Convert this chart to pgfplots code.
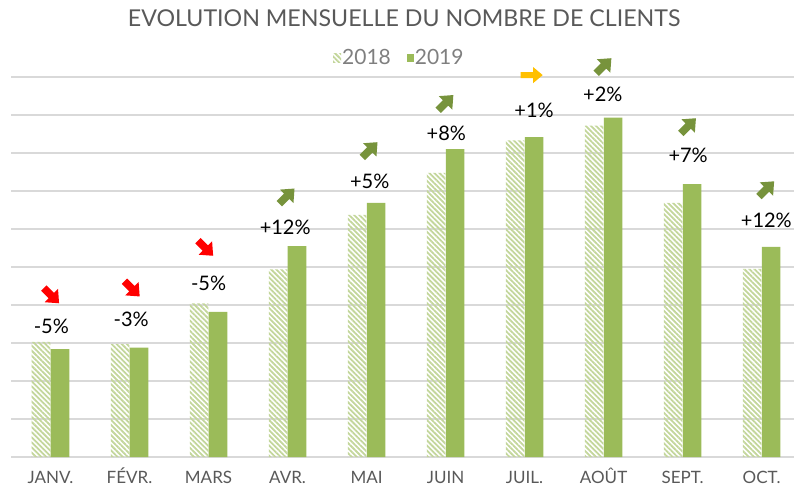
\documentclass[border=0pt]{standalone}
\usepackage{pgfplots}
\pgfplotsset{compat=1.18}
\usepackage{pgfplotstable}
\usepackage{fontspec}
\setmainfont{Lato}
\usetikzlibrary{patterns.meta}
\definecolor{g19}{HTML}{9BBB59}
\definecolor{g18}{HTML}{C3D69B}
\definecolor{agreen}{HTML}{77933C}
\definecolor{ared}{HTML}{FF0000}
\definecolor{ayel}{HTML}{FFC000}
\definecolor{gridc}{HTML}{D9D9D9}
\definecolor{txt}{HTML}{595959}
\definecolor{legc}{HTML}{7F7F7F}

\pgfdeclareplotmark{arrR}{%
  \pgfpathmoveto{\pgfqpoint{-11pt}{-3pt}}%
  \pgfpathlineto{\pgfqpoint{1.5pt}{-3pt}}%
  \pgfpathlineto{\pgfqpoint{1.5pt}{-8pt}}%
  \pgfpathlineto{\pgfqpoint{11pt}{0pt}}%
  \pgfpathlineto{\pgfqpoint{1.5pt}{8pt}}%
  \pgfpathlineto{\pgfqpoint{1.5pt}{3pt}}%
  \pgfpathlineto{\pgfqpoint{-11pt}{3pt}}%
  \pgfpathclose
  \pgfusepathqfill}
\newcommand\diagarrow{%
  \pgfpathmoveto{\pgfqpoint{-10.5pt}{-3.8pt}}%
  \pgfpathlineto{\pgfqpoint{0pt}{-3.8pt}}%
  \pgfpathlineto{\pgfqpoint{0pt}{-9.5pt}}%
  \pgfpathlineto{\pgfqpoint{11pt}{0pt}}%
  \pgfpathlineto{\pgfqpoint{0pt}{9.5pt}}%
  \pgfpathlineto{\pgfqpoint{0pt}{3.8pt}}%
  \pgfpathlineto{\pgfqpoint{-10.5pt}{3.8pt}}%
  \pgfpathclose
  \pgfusepathqfill}
\pgfdeclareplotmark{arrUp}{\pgfscope\pgftransformrotate{45}\diagarrow\endpgfscope}
\pgfdeclareplotmark{arrDn}{\pgfscope\pgftransformrotate{-45}\diagarrow\endpgfscope}

% bar values (in grid units)
\pgfplotstableread{
x a b
0 3.03 2.84
1 2.97 2.88
2 4.04 3.82
3 4.94 5.55
4 6.37 6.69
5 7.48 8.10
6 8.33 8.42
7 8.72 8.93
8 6.69 7.18
9 4.95 5.53
}\bars

% percentage labels
\pgfplotstableread{
x y l
0.01 3.45 -5
1.02 3.62 -3
2.00 4.57 -5
2.97 6.04 +12
4.04 7.25 +5
5.01 8.51 +8
6.12 9.13 +1
6.99 9.54 +2
8.07 7.93 +7
9.06 6.24 +12
}\labs

% trend arrows
\pgfplotstableread{
x y t
0.01 4.25 dn
1.03 4.43 dn
1.96 5.50 dn
2.99 6.86 up
4.04 8.08 up
5.00 9.32 up
6.09 10.05 rt
7.00 10.29 up
8.07 8.71 up
9.06 7.05 up
}\arrs

\begin{document}
\begin{tikzpicture}
\useasboundingbox (-11pt,-30pt) rectangle (783pt,457pt);
\begin{axis}[
  scale only axis,
  width=783pt, height=380pt,
  xmin=-0.5, xmax=9.41,
  ymin=0, ymax=10,
  enlarge x limits=false, enlarge y limits=false,
  clip=false,
  axis line style={draw=none},
  major tick length=0pt,
  ytick={0,1,...,10},
  yticklabels={},
  ymajorgrids,
  grid style={gridc, line width=1.2pt},
  xtick={0,...,9},
  xticklabels={JANV.,FÉVR.,MARS,AVR.,MAI,JUIN,JUIL.,AOÛT,SEPT.,OCT.},
  xticklabel style={anchor=base, yshift=-26pt, font=\fontsize{17}{20}\selectfont, text=txt},
  title={EVOLUTION MENSUELLE DU NOMBRE DE CLIENTS},
  title style={at={(0.502,1.139)}, anchor=center, font=\fontsize{23.2}{27}\selectfont, text=txt},
  legend columns=2,
  legend style={at={(0.496,1.05)}, anchor=center, draw=none, fill=none,
    font=\fontsize{21}{24}\selectfont, text=legc, inner xsep=0pt,
    /tikz/every odd column/.append style={column sep=-1pt},
    /tikz/every even column/.append style={column sep=14pt}},
]
\addplot[ybar, bar width=0.235, bar shift=-0.12, draw=none,
  pattern={Lines[angle=-45, distance=3.6pt, line width=1.8pt]}, pattern color=g18,
  legend image code/.code={\path[draw=none, pattern={Lines[angle=-45, distance=3.6pt, line width=1.8pt]}, pattern color=g18] (0pt,-4.5pt) rectangle (8pt,4.5pt);}]
  table[x=x, y=a] {\bars};
\addlegendentry{2018}
\addplot[ybar, bar width=0.235, bar shift=0.12, draw=none, fill=g19,
  legend image code/.code={\path[fill=g19] (0pt,-4pt) rectangle (7pt,4pt);}]
  table[x=x, y=b] {\bars};
\addlegendentry{2019}
\addplot[draw=none, forget plot, point meta=explicit symbolic,
  nodes near coords={\pgfplotspointmeta\%},
  every node near coord/.append style={anchor=center, inner sep=0pt, text=black, font=\fontsize{20}{23}\selectfont}]
  table[x=x, y=y, meta=l] {\labs};
\addplot[scatter, only marks, forget plot, point meta=explicit symbolic,
  scatter/classes={up={mark=arrUp, color=agreen, fill=agreen}, dn={mark=arrDn, color=ared, fill=ared}, rt={mark=arrR, color=ayel, fill=ayel}}]
  table[x=x, y=y, meta=t] {\arrs};
\end{axis}
\end{tikzpicture}
\end{document}
